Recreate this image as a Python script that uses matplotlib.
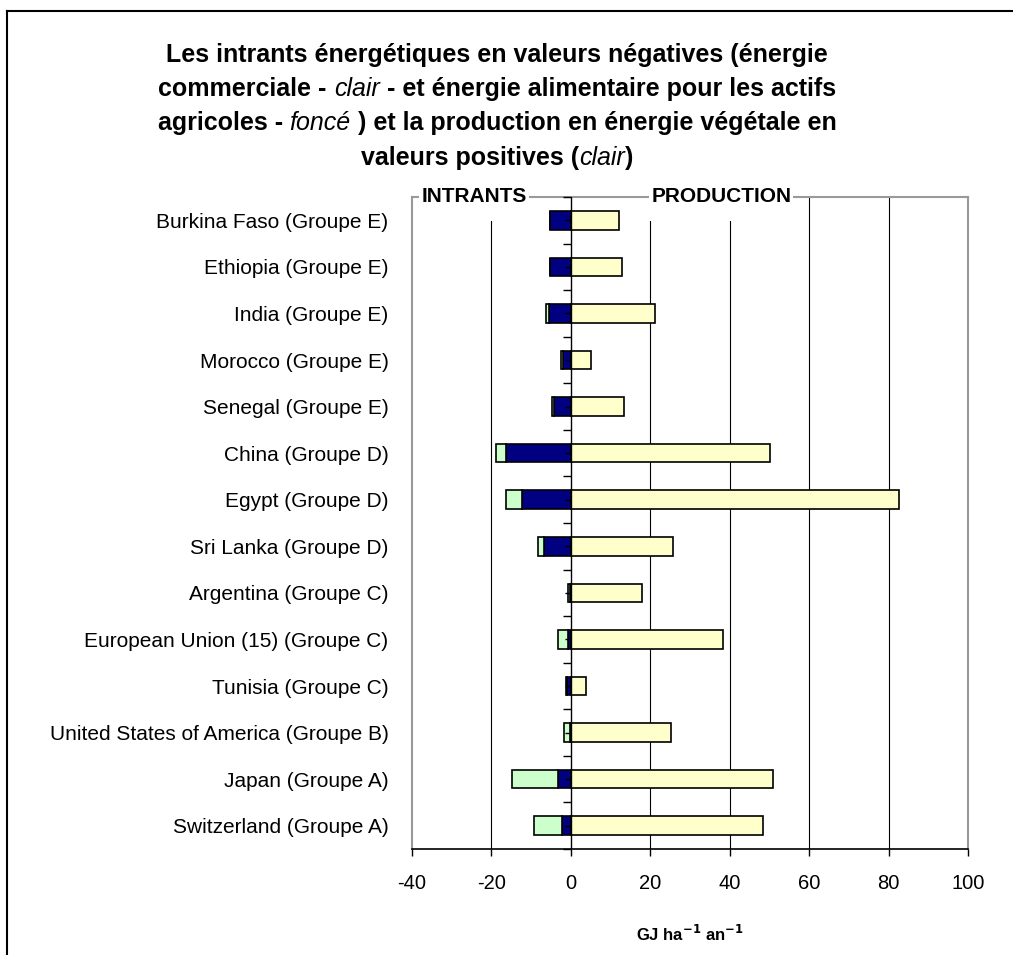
import matplotlib
matplotlib.use('Agg')
import matplotlib.pyplot as plt
from matplotlib.lines import Line2D
from matplotlib.patches import Rectangle
import matplotlib.transforms as mtransforms
import numpy as np

plt.rcParams['font.family'] = ['Liberation Sans', 'DejaVu Sans']

countries = ['Burkina Faso (Groupe E)', 'Ethiopia (Groupe E)', 'India (Groupe E)',
             'Morocco (Groupe E)', 'Senegal (Groupe E)', 'China (Groupe D)',
             'Egypt (Groupe D)', 'Sri Lanka (Groupe D)', 'Argentina (Groupe C)',
             'European Union (15) (Groupe C)', 'Tunisia (Groupe C)',
             'United States of America (Groupe B)', 'Japan (Groupe A)',
             'Switzerland (Groupe A)']
# energie alimentaire des actifs agricoles (fonce), intrant
food = [5.3, 5.3, 5.6, 2.0, 4.2, 16.3, 12.2, 6.7, 0.3, 0.6, 1.0, 0.2, 3.2, 2.2]
# energie commerciale (clair), intrant
commercial = [0.0, 0.0, 0.6, 0.6, 0.6, 2.5, 4.1, 1.5, 0.4, 2.6, 0.2, 1.5, 11.5, 7.0]
# production en energie vegetale
production = [12.0, 13.0, 21.2, 5.0, 13.5, 50.2, 82.5, 25.6, 18.0, 38.2, 3.9, 25.1, 50.8, 48.3]
xticks = [-40, -20, 0, 20, 40, 60, 80, 100]

W, H = 1013, 955
fig = plt.figure(figsize=(W / 100, H / 100), dpi=100)
ax = fig.add_axes([412 / W, (H - 849) / H, 556 / W, 652 / H])

y = np.arange(len(countries))
food_neg = -np.array(food)
comm_neg = -np.array(commercial)
bh = 0.4
ax.barh(y, food_neg, height=bh, color='#000080', edgecolor='black', linewidth=1.2, zorder=3)
ax.barh(y, comm_neg, left=food_neg, height=bh, color='#CCFFCC', edgecolor='black', linewidth=1.2, zorder=3)
ax.barh(y, production, height=bh, color='#FFFFCC', edgecolor='black', linewidth=1.2, zorder=3)

ax.set_xlim(-40, 100)
ax.set_ylim(len(countries) - 0.5, -0.5)
ax.set_xticks(xticks)
ax.set_xticklabels([str(v) for v in xticks], fontsize=14.5)
ax.set_yticks(y)
ax.set_yticklabels(countries, fontsize=15)
ax.tick_params(axis='y', length=0, pad=17)
ax.tick_params(axis='x', direction='out', length=5, width=1, pad=13)

for v in [-20, 20, 40, 60, 80]:
    ax.axvline(v, color='black', linewidth=0.8, zorder=1)
ax.axvline(0, color='black', linewidth=1.0, zorder=4)

for s in ['left', 'right', 'top']:
    ax.spines[s].set_color('#999999')
    ax.spines[s].set_linewidth(1.5)
ax.spines['bottom'].set_color('black')
ax.spines['bottom'].set_linewidth(1.2)

# petits traits sur l'axe zero (entre categories et au centre)
sec = ax.secondary_yaxis(40 / 140)
sec.set_yticks(np.arange(len(countries) + 1) - 0.5)
sec.set_yticks(y, minor=True)
sec.set_yticklabels([])
sec.tick_params(which='major', length=6, width=1, direction='out', color='black')
sec.tick_params(which='minor', length=4, width=1, direction='out', color='black')
sec.spines['left'].set_visible(False)
sec.set_zorder(5)

# cadres blancs sous les etiquettes INTRANTS / PRODUCTION
blend = mtransforms.blended_transform_factory(ax.transData, ax.transAxes)
ax.add_patch(Rectangle((-39.3, 1 - 24 / 652), 29.2, 0.1, transform=blend,
                       facecolor='white', edgecolor='none', zorder=2, clip_on=False))
ax.add_patch(Rectangle((19.4, 1 - 24 / 652), 37.8, 0.1, transform=blend,
                       facecolor='white', edgecolor='none', zorder=2, clip_on=False))
ax.text(-24.4, 1.0, 'INTRANTS', transform=blend, ha='center', va='center',
        fontsize=15, fontweight='bold', zorder=6,
        bbox=dict(facecolor='white', edgecolor='none', pad=1.5))
ax.text(37.9, 1.0, 'PRODUCTION', transform=blend, ha='center', va='center',
        fontsize=15, fontweight='bold', zorder=6,
        bbox=dict(facecolor='white', edgecolor='none', pad=1.5))

ax.set_xlabel(r'GJ ha$^{\mathbf{-1}}$ an$^{\mathbf{-1}}$', fontsize=12, fontweight='bold', labelpad=22)

# titre avec parties en italique
title_lines = [
    [('Les intrants énergétiques en valeurs négatives (énergie', 'bold')],
    [('commerciale - ', 'bold'), ('clair', 'italic'), (' - et énergie alimentaire pour les actifs', 'bold')],
    [('agricoles - ', 'bold'), ('foncé', 'italic'), (' ) et la production en énergie végétale en', 'bold')],
    [('valeurs positives (', 'bold'), ('clair', 'italic'), (')', 'bold')],
]
tsize = 18
renderer = fig.canvas.get_renderer()


def seg_width(s, style):
    kw = dict(fontsize=tsize)
    if style == 'bold':
        kw['fontweight'] = 'bold'
    else:
        kw['fontstyle'] = 'italic'
    t1 = fig.text(0, 0, '|' + s + '|', **kw)
    t2 = fig.text(0, 0, '||', **kw)
    w = t1.get_window_extent(renderer).width - t2.get_window_extent(renderer).width
    t1.remove()
    t2.remove()
    return w, kw


cx = 497
baselines = [62, 96, 130, 165]
for line, base in zip(title_lines, baselines):
    parts = [seg_width(s, st) for s, st in line]
    total = sum(p[0] for p in parts)
    x = cx - total / 2
    for (s, st), (w, kw) in zip(line, parts):
        fig.text(x / W, 1 - base / H, s, ha='left', va='baseline', **kw)
        x += w

# cadre de la figure
fig.add_artist(Line2D([7 / W, 1], [1 - 11 / H, 1 - 11 / H], color='black', linewidth=1.5))
fig.add_artist(Line2D([7 / W, 7 / W], [0, 1 - 11 / H], color='black', linewidth=1.5))

fig.savefig('out.png', dpi=100)
